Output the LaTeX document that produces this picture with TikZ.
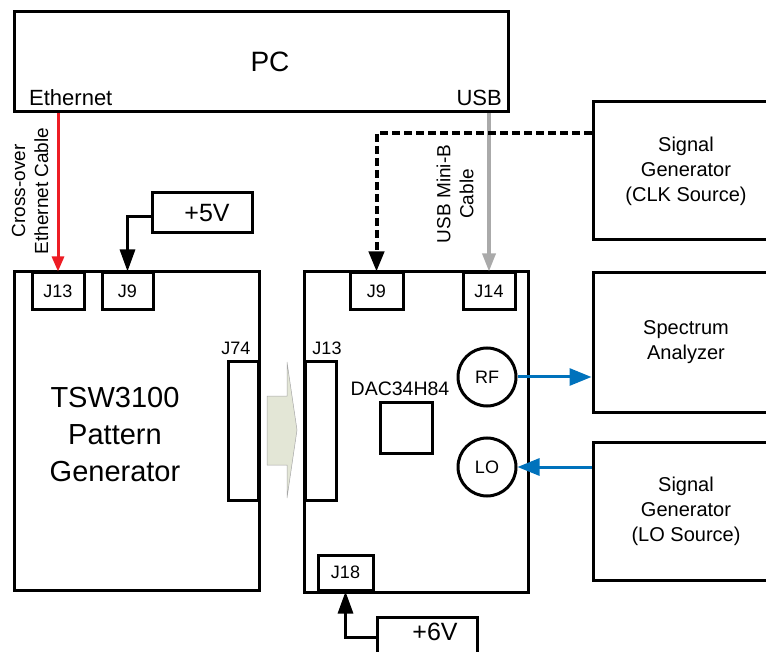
\documentclass[tikz,border=0pt]{standalone}
\usepackage{fontspec}
\setmainfont{Liberation Sans}
\usetikzlibrary{arrows.meta, positioning, shapes.geometric}
\definecolor{cablered}{RGB}{237, 28, 36}
\definecolor{usbgray}{RGB}{170, 170, 170}
\definecolor{rfblue}{RGB}{0, 114, 188}
\definecolor{busfill}{RGB}{227, 230, 214}

\begin{document}
\begin{tikzpicture}[x=1pt, y=-1pt,
  box/.style={draw, line width=3pt, inner sep=0pt},
  port/.style={box, minimum height=37pt, font=\fontsize{18}{20}\selectfont},
  jack/.style={draw, circle, line width=3pt, minimum size=58pt, inner sep=0pt, font=\fontsize{18}{20}\selectfont},
  instr/.style={box, minimum width=186pt, align=center, font=\fontsize{20}{25}\selectfont},
  lbl/.style={inner sep=0pt, font=\fontsize{18}{20}\selectfont},
  supply/.style={box, minimum width=100pt, minimum height=40pt}]
  \useasboundingbox (0,0) rectangle (766,652);
  \clip (0,0) rectangle (766,652);

  % PC
  \node[box, minimum width=494pt, minimum height=100pt] (pc) at (261,62) {};
  \node[inner sep=0pt, font=\fontsize{28}{30}\selectfont] (pctext) at (270,62) {PC};
  \node[inner sep=0pt, anchor=west, font=\fontsize{22}{24}\selectfont] (eth) at (29,98) {Ethernet};
  \node[inner sep=0pt, anchor=east, font=\fontsize{22}{24}\selectfont] (usb) at (502,98) {USB};

  % TSW3100 board
  \node[box, minimum width=245pt, minimum height=318pt] (tsw) at (136.5,431) {};
  \node[inner sep=0pt, align=center, font=\fontsize{29}{37}\selectfont] (tswtext) at (115,435)
    {TSW3100\\Pattern\\Generator};
  \node[port, minimum width=52pt] (tswJ13) at (58,291.5) {J13};
  \node[port, minimum width=51pt] (tswJ9) at (127.5,291.5) {J9};
  \node[box, minimum width=30pt, minimum height=138pt] (J74) at (243,431) {};
  \node[lbl] (J74text) at (236,348) {J74};

  % DAC board
  \node[box, minimum width=224pt, minimum height=320pt] (dac) at (416,432) {};
  \node[port, minimum width=53pt] (dacJ9) at (376.5,291.5) {J9};
  \node[port, minimum width=52pt] (dacJ14) at (489,291.5) {J14};
  \node[port, minimum width=55pt, minimum height=35pt] (dacJ18) at (345.5,572.5) {J18};
  \node[box, minimum width=31pt, minimum height=138pt] (dacJ13) at (320.5,431) {};
  \node[lbl] (J13text) at (327,348) {J13};
  \node[box, minimum width=52pt, minimum height=51pt] (chip) at (406,427.5) {};
  \node[inner sep=0pt, font=\fontsize{19.5}{21}\selectfont] (chiptext) at (400,389) {DAC34H84};
  \node[jack] (rf) at (487,377) {RF};
  \node[jack] (lo) at (487,467) {LO};

  % bus arrow J74 -> J13
  \draw[gray!70, line width=0.5pt, fill=busfill]
    (267,396) -- (287,396) -- (287,362) -- (297,430) -- (287,498) -- (287,465) -- (267,465) -- cycle;

  % instruments
  \node[instr, minimum height=138pt] (clk) at (686,171) {Signal\\Generator\\(CLK Source)};
  \node[instr, minimum height=139pt] (sa) at (686,342.5) {Spectrum\\Analyzer};
  \node[instr, minimum height=138pt] (logen) at (686,511) {Signal\\Generator\\(LO Source)};

  % supplies
  \node[supply] (p5) at (202,213) {};
  \node[inner sep=0pt, font=\fontsize{25}{27}\selectfont] (p5text) at (207,213) {+5V};
  \node[supply] (p6) at (427,637) {};
  \node[inner sep=0pt, font=\fontsize{25}{27}\selectfont] (p6text) at (435,632) {+6V};

  % cables
  \draw[cablered, line width=3pt, -{Triangle[length=15pt, width=12pt]}]
    (pc.south -| tswJ13) -- (tswJ13.north);
  \node[inner sep=0pt, rotate=90, align=center, font=\fontsize{19}{23}\selectfont] (ethcable) at (30,191)
    {Cross-over\\Ethernet Cable};
  \draw[usbgray, line width=3.5pt, -{Triangle[length=18pt, width=13pt]}]
    (pc.south -| dacJ14) -- (dacJ14.north);
  \node[inner sep=0pt, rotate=90, align=center, font=\fontsize{19}{23}\selectfont] (usbcable) at (455,194)
    {USB Mini-B\\Cable};
  \draw[line width=4pt, dash pattern=on 8pt off 4pt, -{Triangle[length=20pt, width=15pt]}]
    (clk.west |- 0,133) -| (dacJ9.north);

  % power
  \draw[line width=3pt, -{Triangle[length=22pt, width=15pt]}]
    (p5.west |- 0,217) -| (tswJ9.north);
  \draw[line width=3pt, -{Triangle[length=22pt, width=15pt]}]
    (p6.west) -| (dacJ18.south);

  % RF / LO
  \draw[rfblue, line width=3pt, -{Triangle[length=22pt, width=17pt]}] (rf.east) -- (rf.east -| sa.west);
  \draw[rfblue, line width=3pt, -{Triangle[length=22pt, width=17pt]}] (logen.west |- lo.east) -- (lo.east);
\end{tikzpicture}
\end{document}
